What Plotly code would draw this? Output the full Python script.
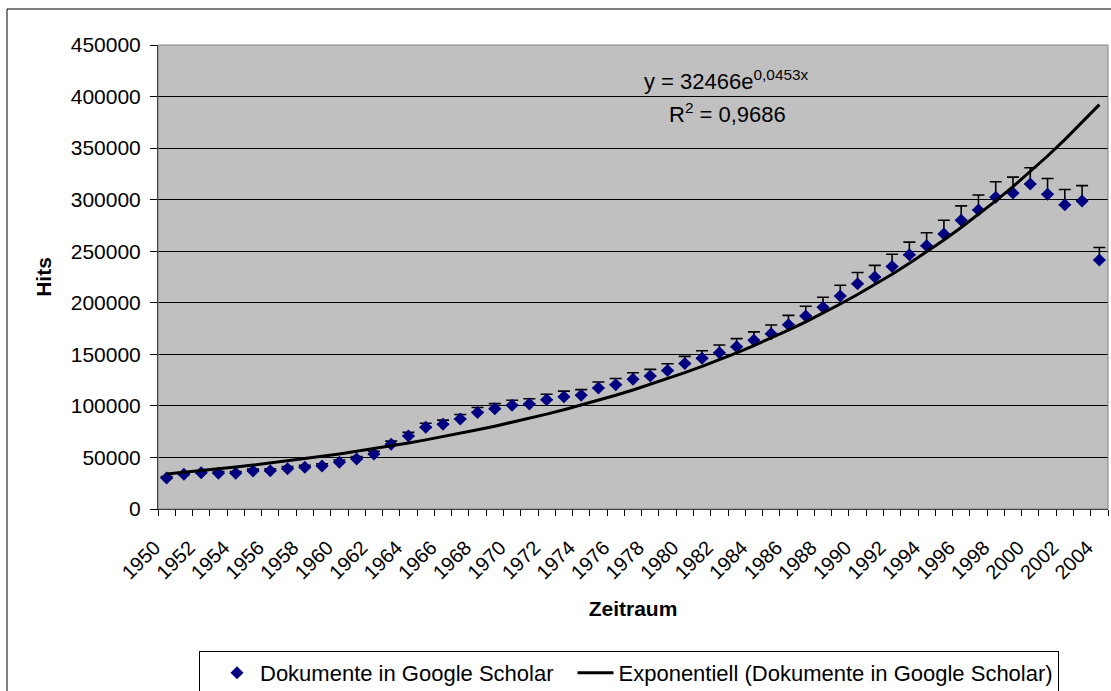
import plotly.graph_objects as go
import numpy as np

# ---- data ----
years = list(range(1950, 2005))
hits = [30000, 33600, 35200, 34600, 34600, 36800, 37100, 39100, 40400, 41700,
        45300, 48500, 53300, 62700, 70800, 79200, 82100, 87300, 93700, 97300,
        100500, 101800, 106000, 108900, 110300, 117300, 120600, 125800, 129000, 134200,
        141000, 146100, 151500, 157400, 163600, 170000, 178800, 187200, 195600, 206600,
        218500, 225000, 235300, 246500, 255200, 266700, 280000, 290000, 302300, 306500,
        315200, 305200, 295100, 298700, 241500]
error_percent = 5
trend_a = 32466
trend_b = 0.0453
r_squared = "0,9686"
tick_labels = [str(y) for y in years[::2]]

idx = np.arange(1, len(years) + 1)
trend = trend_a * np.exp(trend_b * idx)

FONT = "Liberation Sans, Arial, sans-serif"

fig = go.Figure()
fig.add_trace(go.Scatter(
    x=years, y=hits, mode="markers", name="Dokumente in Google Scholar",
    marker=dict(symbol="diamond", size=10, color="#000080"),
    error_y=dict(type="percent", value=error_percent, valueminus=0, symmetric=False,
                 color="black", thickness=1.6, width=6),
))
fig.add_trace(go.Scatter(
    x=years, y=trend, mode="lines", name="Exponentiell (Dokumente in Google Scholar)",
    line=dict(color="black", width=3),
))

L, R, T, B = 158, 3, 45, 182
W, H = 1111 - L - R, 691 - T - B

def px(x):
    return (x - L) / W

def py(y):
    return (691 - B - y) / H

fig.update_layout(
    width=1111, height=691,
    margin=dict(l=L, r=R, t=T, b=B, autoexpand=False),
    paper_bgcolor="white", plot_bgcolor="#C0C0C0",
    font=dict(family=FONT, size=20, color="black"),
    showlegend=True,
    legend=dict(orientation="h", x=px(199), y=py(651), xanchor="left", yanchor="top",
                bordercolor="black", borderwidth=1, bgcolor="white",
                indentation=14, itemwidth=36,
                font=dict(size=22, family=FONT)),
    xaxis=dict(
        range=[1949.5, 2004.5], tickmode="array", tickvals=years[::2], ticktext=tick_labels,
        tickangle=-45, ticks="", showgrid=False, zeroline=False,
        showline=True, linecolor="black", linewidth=1,
        tickfont=dict(size=20), ticklabelstandoff=18, ticklabelshift=-12,
        minor=dict(tickvals=[y - 0.5 for y in years] + [years[-1] + 0.5],
                   ticks="outside", ticklen=6, tickcolor="black", showgrid=False),
        title=dict(text="<b>Zeitraum</b>", font=dict(size=21), standoff=18),
    ),
    yaxis=dict(
        range=[0, 450000], dtick=50000, tickformat="d",
        ticks="outside", ticklen=7, tickcolor="black",
        showgrid=True, gridcolor="black", gridwidth=1, zeroline=False,
        showline=True, linecolor="black", linewidth=1,
        tickfont=dict(size=21), ticklabelstandoff=5,
        title=dict(text="<b>Hits</b>", font=dict(size=21), standoff=13),
    ),
    shapes=[
        dict(type="rect", xref="paper", yref="paper", x0=0, x1=1, y0=0, y1=1,
             line=dict(color="#808080", width=1), layer="above"),
        dict(type="rect", xref="paper", yref="paper", x0=px(7), x1=px(1125), y0=py(9), y1=py(720),
             line=dict(color="black", width=1)),
    ],
    annotations=[
        dict(xref="paper", yref="y", x=px(726), y=416000, showarrow=False,
             text="y = 32466e<sup>0,0453x</sup>", font=dict(size=22)),
        dict(xref="paper", yref="y", x=px(727), y=384000, showarrow=False,
             text="R<sup>2</sup> = " + r_squared, font=dict(size=22)),
    ],
)

fig.write_html("out.html", config={"displayModeBar": False},
               post_script="document.body.style.margin='0px';")
